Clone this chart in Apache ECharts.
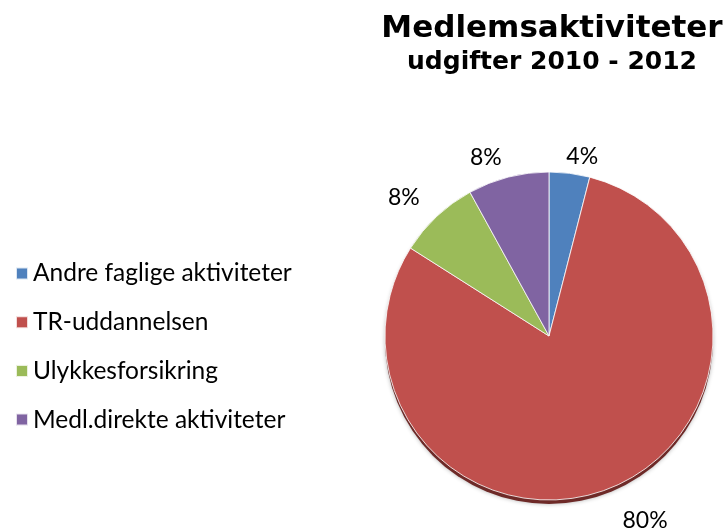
<!DOCTYPE html>
<html>
<head>
<meta charset="utf-8">
<script src="https://cdn.jsdelivr.net/npm/echarts@6/dist/echarts.min.js"></script>
<style>html,body{margin:0;padding:0;background:#fff}#c{width:724px;height:531px}</style>
</head>
<body>
<div id="c"></div>
<script>
const categories = ['Andre faglige aktiviteter', 'TR-uddannelsen', 'Ulykkesforsikring', 'Medl.direkte aktiviteter'];
const values = [4, 80, 8, 8];
const colors = ['#4F81BD', '#C0504D', '#9BBB59', '#8064A2'];
const titleText = 'Medlemsaktiviteter';
const subtitleText = 'udgifter 2010 - 2012';

const labelNudge = [[-11, 5], [0, 12], [3, -3], [4, 2]];

const chart = echarts.init(document.getElementById('c'), null, {renderer: 'canvas'});
const center = [549, 336];
const radius = 164;
chart.setOption({
  animation: false,
  backgroundColor: '#ffffff',
  title: {
    text: titleText,
    subtext: subtitleText,
    left: 547,
    top: 8,
    textAlign: 'center',
    itemGap: 6,
    textStyle: {fontFamily: 'DejaVu Sans', fontWeight: 'bold', fontSize: 31, color: '#000'},
    subtextStyle: {fontFamily: 'DejaVu Sans', fontWeight: 'bold', fontSize: 25, color: '#000'}
  },
  legend: {
    orient: 'vertical',
    left: 10,
    top: 256,
    icon: 'rect',
    itemWidth: 12,
    itemHeight: 12,
    itemGap: 23.7,
    data: categories,
    textStyle: {fontFamily: 'Lato', fontSize: 24.5, lineHeight: 25, color: '#000'}
  },
  series: [
    {
      type: 'pie',
      silent: true,
      center: [center[0], center[1] + 4],
      radius: radius,
      label: {show: false},
      labelLine: {show: false},
      itemStyle: {color: '#6E2A28', shadowBlur: 4, shadowColor: 'rgba(0,0,0,0.3)'},
      data: [{value: 1, name: ''}],
      z: 1
    },
    {
      type: 'pie',
      center: center,
      radius: radius,
      startAngle: 90,
      clockwise: true,
      z: 2,
      itemStyle: {borderColor: 'rgba(255,255,255,0.8)', borderWidth: 1},
      label: {
        show: true,
        position: 'outside',
        formatter: (p) => p.value + '%',
        fontFamily: 'Lato',
        fontSize: 23,
        color: '#000'
      },
      labelLine: {show: false, length: 22, length2: 0},
      labelLayout: (p) => ({dx: labelNudge[p.dataIndex][0], dy: labelNudge[p.dataIndex][1]}),
      data: categories.map((c, i) => ({name: c, value: values[i], itemStyle: {color: colors[i]}}))
    }
  ]
});
</script>
</body>
</html>
